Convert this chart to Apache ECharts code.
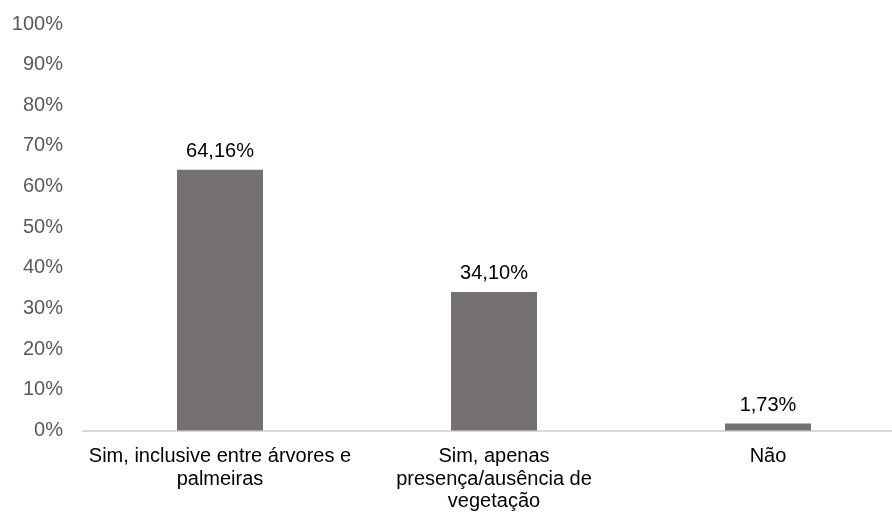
<!DOCTYPE html>
<html>
<head>
<meta charset="utf-8">
<style>
  html, body { margin: 0; padding: 0; background: #ffffff; overflow: hidden; }
  #chart { width: 912px; height: 513px; }
</style>
<script src="https://cdn.jsdelivr.net/npm/echarts@6/dist/echarts.min.js"></script>
</head>
<body>
<div id="chart"></div>
<script>
// Categories (line breaks as laid out under the axis)
const categories = [
  'Sim, inclusive entre árvores e\npalmeiras',
  'Sim, apenas\npresença/ausência de\nvegetação',
  'Não'
];
// Share of answers, in percent
const values = [64.16, 34.10, 1.73];
// Y axis range and step, in percent
const yMin = 0;
const yMax = 100;
const yStep = 10;

const fmtPct = v => v.toFixed(2).replace('.', ',') + '%';

// The plot runs a little past the right edge of the window, so the
// canvas is wider than the visible page and the overflow is hidden.
const chart = echarts.init(document.getElementById('chart'), null, { renderer: 'canvas' });
chart.setOption({
  animation: false,
  backgroundColor: '#ffffff',
  textStyle: { fontFamily: 'Liberation Sans, Arial, sans-serif' },
  grid: { left: 83, top: 24, width: 822, height: 407, containLabel: false },
  xAxis: {
    type: 'category',
    data: categories,
    axisLine: { show: true, lineStyle: { color: '#d9d9d9', width: 2 } },
    axisTick: { show: false },
    axisLabel: {
      color: '#000000',
      fontSize: 20,
      lineHeight: 22.5,
      margin: 15,
      interval: 0
    }
  },
  yAxis: {
    type: 'value',
    min: yMin,
    max: yMax,
    interval: yStep,
    axisLine: { show: false },
    axisTick: { show: false },
    splitLine: { show: false },
    axisLabel: {
      color: '#595959',
      fontSize: 20,
      margin: 20,
      formatter: '{value}%'
    }
  },
  series: [{
    type: 'bar',
    data: values,
    barWidth: '31.4%',
    itemStyle: { color: '#767171' },
    label: {
      show: true,
      position: 'top',
      distance: 8,
      color: '#000000',
      fontSize: 20,
      formatter: p => fmtPct(p.value)
    }
  }]
});
</script>
</body>
</html>
